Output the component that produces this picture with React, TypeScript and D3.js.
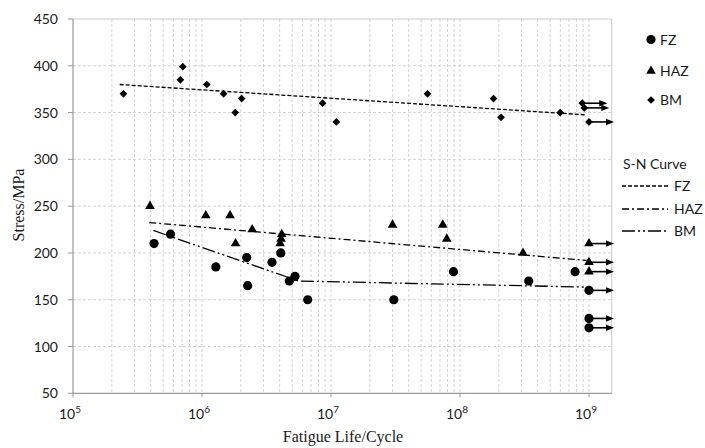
import React from 'react';
import * as d3 from 'd3';

// ---- data ----
const fzLife = [4.25e5, 5.7e5, 1.28e6, 2.22e6, 2.26e6, 3.49e6, 4.08e6, 4.75e6, 5.26e6, 6.6e6, 3.07e7, 8.9e7, 3.41e8, 7.8e8, 1e9, 1e9, 1e9];
const fzStress = [210, 220, 185, 195, 165, 190, 200, 170, 175, 150, 150, 180, 170, 180, 160, 130, 120];
const fzRunout = [false, false, false, false, false, false, false, false, false, false, false, false, false, false, true, true, true];

const hazLife = [3.95e5, 1.07e6, 1.65e6, 1.82e6, 2.45e6, 4.03e6, 4.1e6, 4.15e6, 3.0e7, 7.35e7, 7.9e7, 3.08e8, 1e9, 1e9, 1e9];
const hazStress = [250, 240, 240, 210, 225, 210, 215, 220, 230, 230, 215, 200, 210, 190, 180];
const hazRunout = [false, false, false, false, false, false, false, false, false, false, false, false, true, true, true];

const bmLife = [2.46e5, 6.8e5, 7.1e5, 1.09e6, 1.47e6, 1.81e6, 2.03e6, 8.6e6, 1.1e7, 5.6e7, 1.82e8, 2.08e8, 5.98e8, 8.87e8, 9.2e8, 1e9];
const bmStress = [370, 385, 399, 380, 370, 350, 365, 360, 340, 370, 365, 345, 350, 360, 355, 340];
const bmRunout = [false, false, false, false, false, false, false, false, false, false, false, false, false, true, true, true];

// S-N curves (as the legend names them)
const curveFzLife = [2.3e5, 9.6e8];
const curveFzStress = [380, 347.5];
const curveHazLife = [3.9e5, 9.6e8];
const curveHazStress = [232.5, 192];
const curveBmLife = [4.2e5, 5.6e6, 9.6e8];
const curveBmStress = [224, 170, 163.5];

const yTicks = [50, 100, 150, 200, 250, 300, 350, 400, 450];
const xDecades = [5, 6, 7, 8, 9];

const W = 705;
const H = 448;
const left = 73;
const right = 611.7;
const top = 19;
const bottom = 393.3;

const sans = 'Lato, "Open Sans", sans-serif';
const serif = '"Liberation Serif", "Times New Roman", serif';

const dashFz = '4,2';
const dashHaz = '7,3,2,3';
const dashBm = '13,3,2,3,2,3';

export default function App() {
  const x = d3.scaleLog().domain([1e5, 1.5e9]).range([left, right]);
  const y = d3.scaleLinear().domain([50, 450]).range([bottom, top]);

  const minor: number[] = [];
  for (let e = 5; e <= 9; e++) {
    for (let m = 1; m <= 9; m++) {
      const v = m * Math.pow(10, e);
      if (v > 1e5 && v < 1.5e9) minor.push(v);
    }
  }

  const line = d3
    .line<[number, number]>()
    .x((d) => x(d[0]))
    .y((d) => y(d[1]));
  const pts = (a: number[], b: number[]) => a.map((v, i) => [v, b[i]] as [number, number]);

  const tri = d3.symbol().type(d3.symbolTriangle).size(40)()!;
  const dia = d3.symbol().type(d3.symbolSquare).size(30)()!;

  const arrow = (cx: number, cy: number, key: string) => (
    <g key={key}>
      <line x1={cx} y1={cy} x2={cx + 19} y2={cy} stroke="#000" strokeWidth={1.6} />
      <path d={`M${cx + 17},${cy - 3.2}L${cx + 25},${cy}L${cx + 17},${cy + 3.2}Z`} fill="#000" />
    </g>
  );

  return (
    <svg width={W} height={H} style={{ position: 'absolute', left: 0, top: 0, background: '#fff' }}>
      {/* grid */}
      {minor.map((v, i) => (
        <line key={'vx' + i} x1={x(v)} x2={x(v)} y1={top} y2={bottom} stroke="#d4d4d4" strokeDasharray="3,2" strokeWidth={1} />
      ))}
      {yTicks.slice(1, -1).map((t) => (
        <line key={'gy' + t} x1={left} x2={right} y1={y(t)} y2={y(t)} stroke="#d4d4d4" strokeDasharray="3,2" strokeWidth={1} />
      ))}
      {/* frame */}
      <line x1={left} x2={right} y1={top} y2={top} stroke="#c8c8c8" />
      <line x1={right} x2={right} y1={top} y2={bottom} stroke="#c8c8c8" />
      <line x1={left} x2={left} y1={top} y2={bottom} stroke="#999" strokeWidth={1.2} />
      <line x1={left} x2={right} y1={bottom} y2={bottom} stroke="#999" strokeWidth={1.2} />

      {/* y ticks */}
      {yTicks.map((t) => (
        <g key={'ty' + t}>
          <line x1={left - 5} x2={left} y1={y(t)} y2={y(t)} stroke="#999" />
          <text x={left - 15} y={y(t) + 5} textAnchor="end" fontFamily={sans} fontSize={14} fill="#1a1a1a">
            {t}
          </text>
        </g>
      ))}
      {/* x ticks */}
      {xDecades.map((e) => (
        <g key={'tx' + e}>
          <line x1={x(Math.pow(10, e))} x2={x(Math.pow(10, e))} y1={bottom} y2={bottom + 4} stroke="#999" />
          <text x={x(Math.pow(10, e)) - 3} y={bottom + 26} textAnchor="middle" fontFamily={sans} fontSize={14} fill="#1a1a1a">
            10
            <tspan dy={-6} fontSize={10}>
              {e}
            </tspan>
          </text>
        </g>
      ))}

      {/* axis titles */}
      <text x={343} y={442} textAnchor="middle" fontFamily={serif} fontSize={16} fill="#1a1a1a">
        Fatigue Life/Cycle
      </text>
      <text transform="translate(24,205) rotate(-90)" textAnchor="middle" fontFamily={serif} fontSize={16} fill="#1a1a1a">
        Stress/MPa
      </text>

      {/* curves */}
      <path d={line(pts(curveFzLife, curveFzStress))!} fill="none" stroke="#000" strokeWidth={1.3} strokeDasharray={dashFz} />
      <path d={line(pts(curveHazLife, curveHazStress))!} fill="none" stroke="#000" strokeWidth={1.3} strokeDasharray={dashHaz} />
      <path d={line(pts(curveBmLife, curveBmStress))!} fill="none" stroke="#000" strokeWidth={1.3} strokeDasharray={dashBm} />

      {/* run-out arrows */}
      {fzLife.map((n, i) => (fzRunout[i] ? arrow(x(n), y(fzStress[i]), 'af' + i) : null))}
      {hazLife.map((n, i) => (hazRunout[i] ? arrow(x(n), y(hazStress[i]), 'ah' + i) : null))}
      {bmLife.map((n, i) => (bmRunout[i] ? arrow(x(n), y(bmStress[i]), 'ab' + i) : null))}

      {/* points */}
      {fzLife.map((n, i) => (
        <circle key={'f' + i} cx={x(n)} cy={y(fzStress[i])} r={4.6} fill="#000" />
      ))}
      {hazLife.map((n, i) => (
        <path key={'h' + i} d={tri} transform={`translate(${x(n)},${y(hazStress[i])})`} fill="#000" />
      ))}
      {bmLife.map((n, i) => (
        <path key={'b' + i} d={dia} transform={`translate(${x(n)},${y(bmStress[i])}) rotate(45)`} fill="#000" />
      ))}

      {/* legend: markers */}
      <circle cx={651} cy={39.5} r={4.6} fill="#000" />
      <text x={660} y={45} fontFamily={sans} fontSize={14} fill="#1a1a1a">FZ</text>
      <path d={tri} transform="translate(651,71)" fill="#000" />
      <text x={660} y={76} fontFamily={sans} fontSize={14} fill="#1a1a1a">HAZ</text>
      <path d={dia} transform="translate(651,100) rotate(45)" fill="#000" />
      <text x={660} y={105} fontFamily={sans} fontSize={14} fill="#1a1a1a">BM</text>

      {/* legend: S-N curves */}
      <text x={623} y={169} fontFamily={sans} fontSize={14} fill="#1a1a1a">S-N Curve</text>
      <line x1={622} x2={668} y1={186} y2={186} stroke="#000" strokeWidth={1.3} strokeDasharray={dashFz} />
      <text x={674} y={191} fontFamily={sans} fontSize={14} fill="#1a1a1a">FZ</text>
      <line x1={622} x2={668} y1={209} y2={209} stroke="#000" strokeWidth={1.3} strokeDasharray={dashHaz} />
      <text x={674} y={214} fontFamily={sans} fontSize={14} fill="#1a1a1a">HAZ</text>
      <line x1={622} x2={668} y1={231} y2={231} stroke="#000" strokeWidth={1.3} strokeDasharray={dashBm} />
      <text x={674} y={236} fontFamily={sans} fontSize={14} fill="#1a1a1a">BM</text>
    </svg>
  );
}
